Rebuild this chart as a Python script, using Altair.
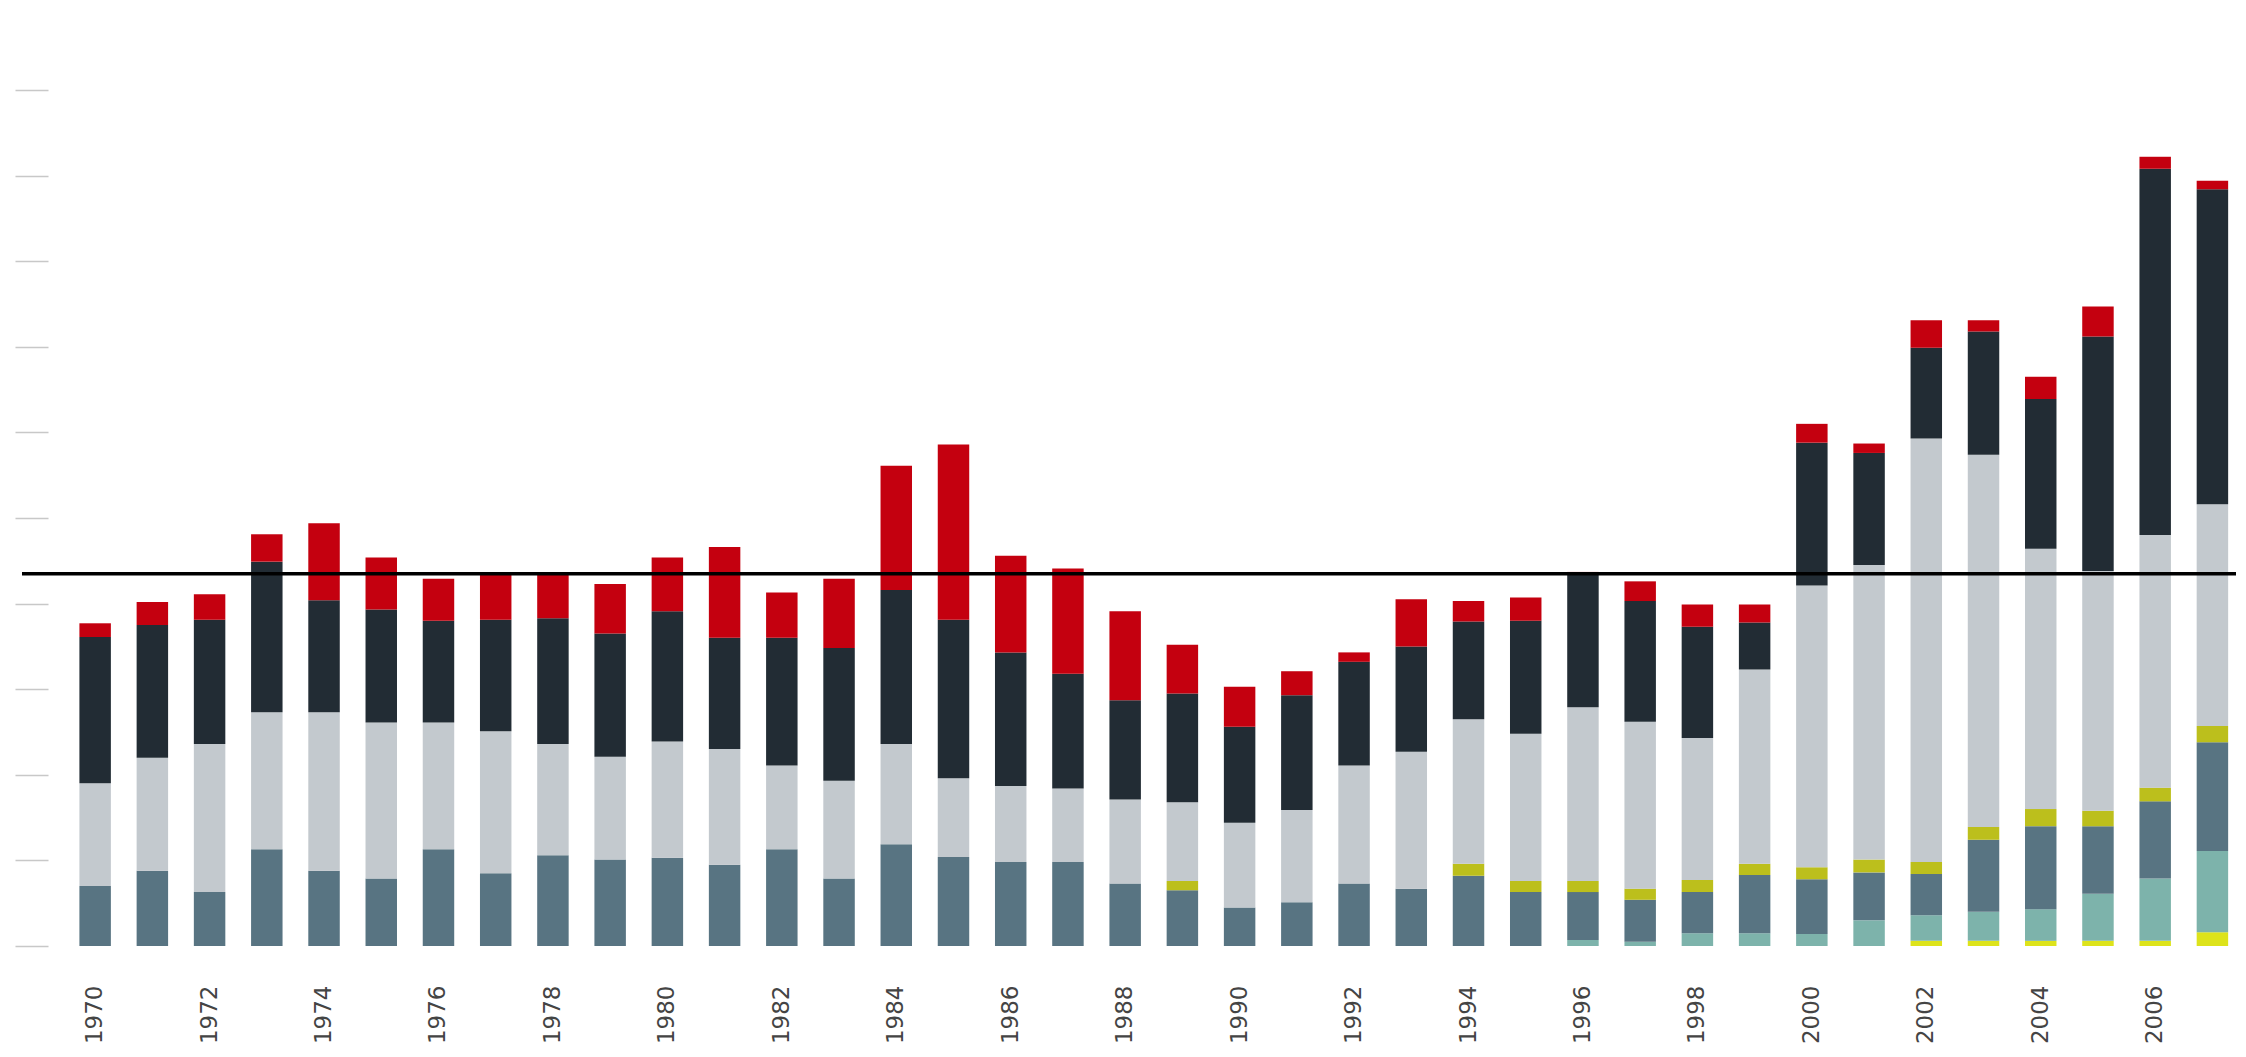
import altair as alt
import pandas as pd

years = [str(y) for y in range(1970, 2008)]
label_years = [str(y) for y in range(1970, 2008, 2)]

yellow = [0]*32 + [0.6, 0.6, 0.6, 0.6, 0.6, 1.6]
teal = [0]*26 + [0.7, 0.5, 1.5, 1.5, 1.4, 3.0, 3.0, 3.4, 3.7, 5.5, 7.3, 9.5]
slate = [7.0, 8.8, 6.3, 11.3, 8.8, 7.9, 11.3, 8.5, 10.6, 10.1,
         10.3, 9.5, 11.3, 7.9, 11.9, 10.4, 9.8, 9.8, 7.3, 6.5,
         4.5, 5.1, 7.3, 6.7, 8.2, 6.3, 5.6, 4.9, 4.8, 6.8,
         6.4, 5.6, 4.8, 8.4, 9.7, 7.9, 9.0, 12.7]
olive = [0]*19 + [1.1, 0, 0, 0, 0, 1.4, 1.3, 1.3, 1.3, 1.4, 1.3,
                  1.4, 1.5, 1.4, 1.5, 2.0, 1.8, 1.6, 1.9]
gray = [12.0, 13.2, 17.3, 16.0, 18.5, 18.2, 14.8, 16.6, 13.0, 12.0,
        13.6, 13.5, 9.8, 11.4, 11.7, 9.2, 8.9, 8.6, 9.8, 9.2,
        9.9, 10.8, 13.8, 16.0, 16.9, 17.2, 20.3, 19.5, 16.6, 22.7,
        32.9, 34.4, 49.5, 43.5, 30.4, 28.0, 29.5, 25.9]
navy = [17.1, 15.5, 14.5, 17.6, 13.1, 13.2, 11.9, 13.0, 14.7, 14.4,
        15.2, 13.0, 14.9, 15.5, 18.0, 18.5, 15.6, 13.4, 11.6, 12.7,
        11.2, 13.4, 12.1, 12.3, 11.4, 13.2, 15.6, 14.1, 13.0, 5.5,
        16.7, 13.1, 10.6, 14.4, 17.5, 27.4, 42.8, 36.8]
red = [1.6, 2.7, 3.0, 3.2, 9.0, 6.1, 4.9, 5.3, 5.3, 5.8,
       6.3, 10.6, 5.3, 8.1, 14.5, 20.5, 11.3, 12.3, 10.4, 5.7,
       4.7, 2.8, 1.1, 5.5, 2.4, 2.7, 0.2, 2.3, 2.6, 2.1,
       2.2, 1.1, 3.2, 1.3, 2.6, 3.5, 1.4, 1.0]

series_names = ["yellow", "teal", "slate", "olive", "gray", "navy", "red"]
series_values = [yellow, teal, slate, olive, gray, navy, red]
series_colors = ["#DDE31B", "#7DB3AB", "#587482", "#BCBF1C", "#C3C9CE", "#222C34", "#C4000F"]

reference_level = [43.5]
y_ticks = [0, 10, 20, 30, 40, 50, 60, 70, 80, 90, 100]

rows = []
for k, (name, vals) in enumerate(zip(series_names, series_values)):
    for yr, v in zip(years, vals):
        if v > 0:
            rows.append({"year": yr, "series": name, "value": v, "order": k})
df = pd.DataFrame(rows)

W = 2188
H = 856

bars = alt.Chart(df).mark_bar().encode(
    x=alt.X("year:N", sort=years,
            scale=alt.Scale(domain=years, paddingInner=0.45, paddingOuter=0.343, align=0.8),
            axis=alt.Axis(title=None, values=label_years, labelAngle=270, ticks=False, domain=False,
                          labelPadding=39, labelFont="DejaVu Sans", labelFontSize=23,
                          labelColor="#444444", grid=False)),
    y=alt.Y("value:Q", stack="zero",
            scale=alt.Scale(domain=[0, 100], nice=False, zero=True),
            axis=alt.Axis(title=None, values=y_ticks, labels=False, domain=False, grid=False,
                          tickSize=33, tickColor="#c8c8c8", tickWidth=1.5)),
    color=alt.Color("series:N", scale=alt.Scale(domain=series_names, range=series_colors), legend=None),
    order=alt.Order("order:Q"),
)

rule = alt.Chart(pd.DataFrame({"level": reference_level})).mark_rule(
    color="#000000", strokeWidth=3.5
).encode(
    y=alt.Y("level:Q"),
    x=alt.value(-26),
    x2=alt.value(W + 40),
)

chart = alt.layer(bars, rule).properties(
    width=W, height=H,
    autosize=alt.AutoSizeParams(type="none"),
    padding={"left": 40, "top": 82, "right": 0, "bottom": 98},
).configure_view(stroke=None)

chart.save("out.html", embed_options={"renderer": "svg", "actions": False})
